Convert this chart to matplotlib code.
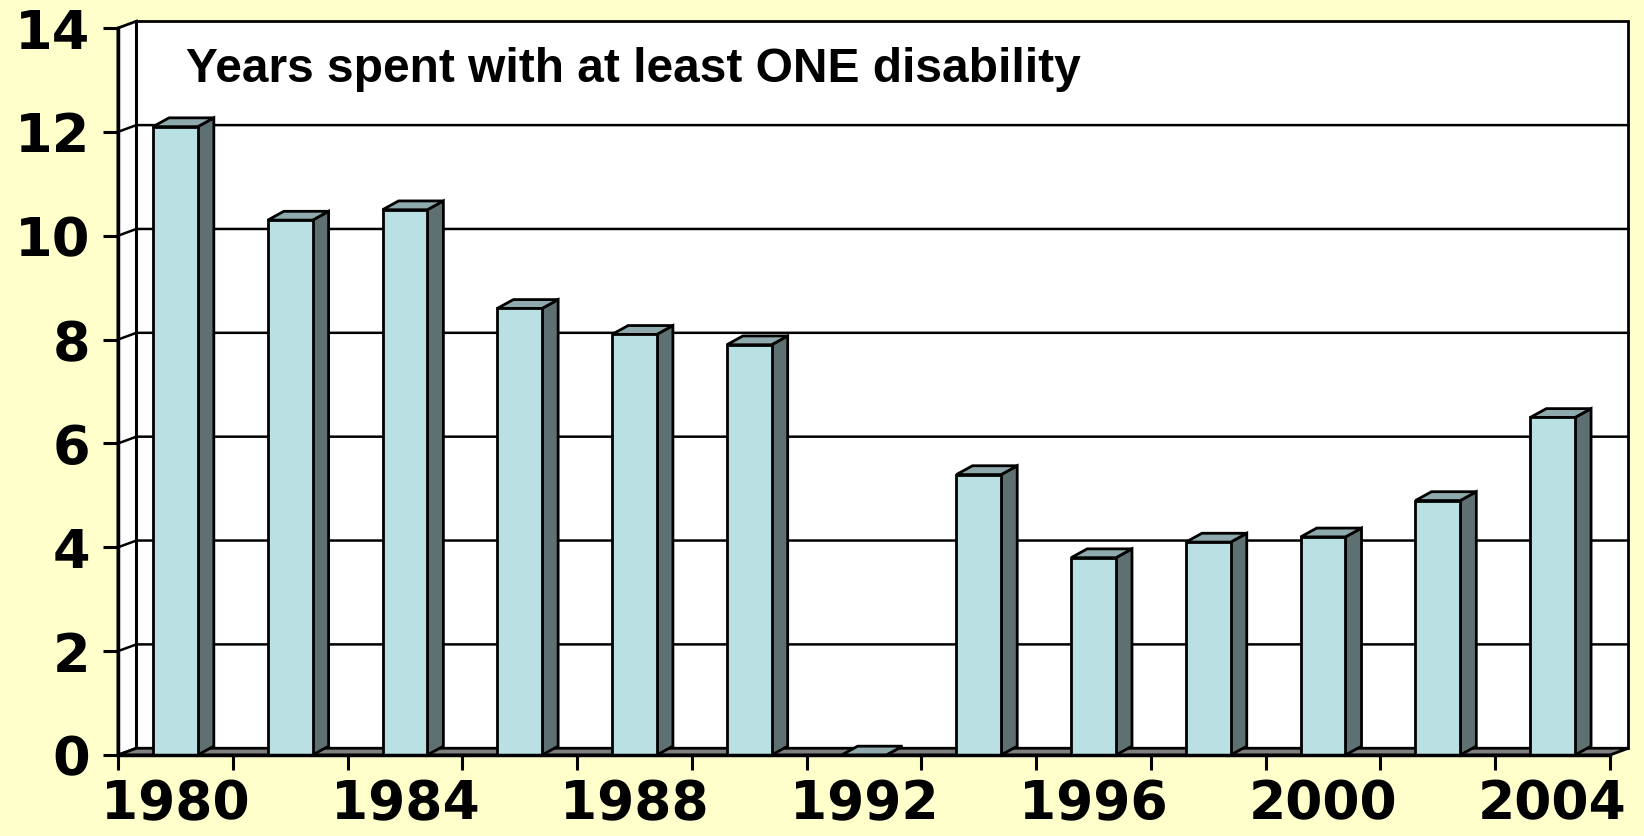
# Gráfico de barras con efecto 3D: años con al menos una discapacidad
import numpy as np
import matplotlib.pyplot as plt
from matplotlib.patches import Polygon

# Datos
anios = [1980, 1982, 1984, 1986, 1988, 1990, 1992, 1994, 1996, 1998, 2000, 2002, 2004]
valores = [12.1, 10.3, 10.5, 8.6, 8.1, 7.9, 0.0, 5.4, 3.8, 4.1, 4.2, 4.9, 6.5]
etiquetas_x = ['1980', '1984', '1988', '1992', '1996', '2000', '2004']
marcas_y = [0, 2, 4, 6, 8, 10, 12, 14]
titulo = 'Years spent with at least ONE disability'

# Colores
fondo = '#FFFFCC'
cara_frontal = '#BAE0E3'
cara_lateral = '#5F7072'
cara_superior = '#8FAAAD'
suelo = '#808080'

plt.rcParams['font.family'] = ['Liberation Sans', 'DejaVu Sans']
plt.rcParams['font.weight'] = 'bold'

fig = plt.figure(figsize=(16.44, 8.36), dpi=100, facecolor=fondo)
ax = fig.add_axes([118 / 1644, 1 - 755 / 836, 1492 / 1644, 727 / 836])
ax.patch.set_visible(False)

n = len(anios)
x = np.arange(n)
x0, x1 = -0.5, n - 0.5
ymax = marcas_y[-1]

# Desplazamiento de la pared del fondo y profundidad de las barras (en unidades de datos)
WX, WY = 0.16, 0.13
BX, BY = 0.14, 0.17
ancho = 0.39

# Paredes y suelo
ax.add_patch(Polygon([(x0 + WX, WY), (x1 + WX, WY), (x1 + WX, ymax + WY), (x0 + WX, ymax + WY)],
                     closed=True, facecolor='white', edgecolor='black', lw=2, zorder=0, clip_on=False))
ax.add_patch(Polygon([(x0, 0), (x0 + WX, WY), (x0 + WX, ymax + WY), (x0, ymax)],
                     closed=True, facecolor='white', edgecolor='black', lw=2, zorder=0, clip_on=False))
ax.add_patch(Polygon([(x0, 0), (x1, 0), (x1 + WX, WY), (x0 + WX, WY)],
                     closed=True, facecolor=suelo, edgecolor='black', lw=2, zorder=1, clip_on=False))

# Líneas de cuadrícula en la pared lateral y del fondo
for v in marcas_y[1:-1]:
    ax.plot([x0, x0 + WX, x1 + WX], [v, v + WY, v + WY], color='black', lw=1.8, zorder=0.5, clip_on=False)

# Barras: cara frontal, lateral y superior
ax.bar(x, valores, width=ancho, color=cara_frontal, edgecolor='black', linewidth=2, zorder=4, clip_on=False)
for xi, v in zip(x, valores):
    der = xi + ancho / 2
    izq = xi - ancho / 2
    ax.add_patch(Polygon([(der, 0), (der + BX, BY), (der + BX, v + BY), (der, v)],
                         closed=True, facecolor=cara_lateral, edgecolor='black', lw=2, zorder=3, clip_on=False))
    ax.add_patch(Polygon([(izq, v), (der, v), (der + BX, v + BY), (izq + BX, v + BY)],
                         closed=True, facecolor=cara_superior, edgecolor='black', lw=2, zorder=3, clip_on=False))

# Ejes
ax.set_xlim(x0, x1)
ax.set_ylim(0, ymax)
for lado in ['top', 'right']:
    ax.spines[lado].set_visible(False)
for lado in ['left', 'bottom']:
    ax.spines[lado].set_linewidth(2.5)
    ax.spines[lado].set_zorder(6)

# Las etiquetas de la imagen original son anchas: DejaVu Sans Bold se parece más
fuente_ejes = {'family': 'DejaVu Sans', 'weight': 'bold'}

ax.set_yticks(marcas_y)
ax.set_yticklabels([str(m) for m in marcas_y], fontdict=fuente_ejes)
ax.tick_params(axis='y', direction='out', length=11, width=2.2, pad=9, labelsize=39)

ax.set_xticks(np.arange(x0, x1 + 0.5, 1))
ax.set_xticklabels([])
ax.tick_params(axis='x', which='major', direction='out', length=11, width=2.2)
ax.set_xticks(x[::2], minor=True)
ax.set_xticklabels(etiquetas_x, minor=True, fontdict=fuente_ejes)
ax.tick_params(axis='x', which='minor', length=0, pad=17, labelsize=38.5)

# Título dentro del gráfico
fig.text(186 / 1644, 1 - 82 / 836, titulo, fontsize=34.5, fontweight='bold', ha='left', va='baseline')

fig.savefig('out.png', dpi=100, facecolor=fondo)
